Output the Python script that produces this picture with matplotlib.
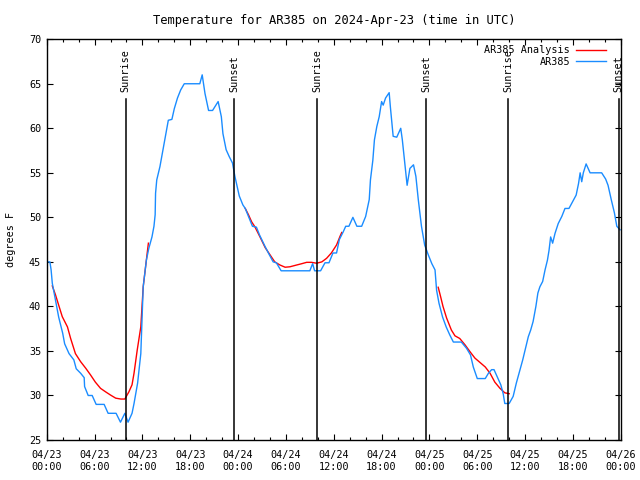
import matplotlib.pyplot as plt

# hours since 2024-04-23 00:00 UTC
obs_hours = [0.0, 0.4, 0.55, 0.7, 1.1, 1.5, 2.0, 2.25, 2.8, 3.4, 3.7, 4.25, 4.7, 4.75, 5.2, 5.7,
             6.2, 7.2, 7.7, 8.7, 9.25, 9.8, 10.2, 10.7, 10.95, 11.4, 11.8, 12.1, 12.5, 12.8,
             13.2, 13.45, 13.6, 13.65, 13.8, 14.2, 14.5, 14.8, 15.25, 15.7, 16.0, 16.4, 16.8,
             17.25, 19.2, 19.5, 19.85, 20.3, 20.8, 21.5, 21.9, 22.1, 22.5, 22.9, 23.3, 23.6,
             24.15, 24.6, 24.9, 25.3, 25.8, 26.3, 26.7, 27.4, 27.8, 28.4, 28.8, 29.4, 33.0,
             33.35, 33.6, 34.35, 34.9, 35.4, 35.9, 36.35, 36.7, 37.2, 37.5, 37.9, 38.4, 38.9,
             39.5, 40.0, 40.45, 40.6, 40.9, 41.1, 41.4, 41.7, 42.0, 42.2, 42.5, 42.95, 43.1,
             43.45, 43.9, 44.4, 44.6, 44.9, 45.2, 45.55, 46.0, 46.3, 46.6, 47.0, 47.4, 47.85,
             48.3, 48.7, 48.9, 49.2, 49.65, 50.1, 50.55, 51.0, 52.0, 52.65, 53.15, 53.5, 54.0,
             55.0, 55.4, 55.8, 56.1, 56.6, 56.95, 57.25, 57.45, 58.0, 58.5, 58.9, 59.35, 59.7,
             60.1, 60.4, 60.7, 61.0, 61.35, 61.6, 61.85, 62.2, 62.5, 62.8, 63.0, 63.2, 63.45,
             63.75, 64.15, 64.6, 65.0, 65.5, 65.95, 66.4, 66.7, 66.9, 67.1, 67.3, 67.65, 68.15,
             69.6, 70.1, 70.4, 70.8, 71.2, 71.5, 71.9]
obs_temps = [45.0, 45.0, 44.1, 42.6, 40.7, 38.8, 37.0, 35.8, 34.7, 34.0, 33.0, 32.5, 32.0, 31.0,
             30.0, 30.0, 29.0, 29.0, 28.0, 28.0, 27.0, 28.0, 27.0, 28.0, 29.1, 31.4, 34.7, 42.2,
             45.2, 46.5, 47.8, 49.0, 50.3, 52.7, 54.2, 55.7, 57.2, 58.7, 60.9, 61.0, 62.2, 63.4,
             64.3, 65.0, 65.0, 66.0, 63.9, 62.0, 62.0, 63.0, 61.3, 59.4, 57.6, 56.8, 56.1, 54.6,
             52.4, 51.4, 51.0, 50.1, 49.0, 48.9, 48.0, 46.7, 46.0, 45.0, 44.9, 44.0, 44.0, 44.8,
             44.0, 44.0, 44.9, 44.9, 46.0, 46.0, 47.5, 48.4, 49.0, 49.0, 50.0, 49.0, 49.0, 50.1,
             52.0, 54.2, 56.4, 58.7, 60.2, 61.3, 63.0, 62.6, 63.4, 64.0, 62.4, 59.1, 59.0, 60.0,
             58.7, 56.1, 53.6, 55.5, 55.9, 54.6, 52.0, 49.0, 46.9, 45.8, 44.8, 44.1, 41.8, 40.35,
             38.8, 37.7, 36.8, 36.0, 36.0, 35.3, 34.55, 33.2, 31.9, 31.9, 32.5, 32.9, 32.9, 31.9,
             31.2, 30.2, 29.1, 29.1, 29.9, 31.4, 32.85, 34.0, 35.5, 36.6, 37.35, 38.3, 40.0, 41.5,
             42.2, 42.8, 44.1, 45.2, 46.3, 47.8, 47.1, 48.2, 49.3, 50.1, 51.0, 51.0, 51.75, 52.5,
             53.8, 55.0, 54.0, 55.0, 56.0, 55.0, 55.0, 54.3, 53.6, 52.0, 50.5, 49.0, 48.6]

# analysis (night segments, None = gap)
ana_hours = [0.7, 1.1, 1.55, 1.95, 2.6, 3.0, 3.6, 4.25, 4.9, 5.5, 6.1, 6.75, 7.4, 8.0, 8.65,
             9.3, 9.8, 10.3, 10.7, 10.95, 11.35, 11.8, 12.1, 12.75, None,
             24.9, 25.3, 25.7, 26.1, 26.75, 27.4, 28.0, 28.6, 29.25, 29.9, 30.5, 31.35, 32.0,
             32.6, 33.2, 33.85, 34.5, 35.1, 35.7, 36.35, 36.8, 37.0, None,
             49.1, 49.4, 49.7, 50.15, 50.75, 51.2, 51.8, 52.45, 53.1, 53.7, 54.35, 55.0, 55.6,
             56.2, 56.85, 57.45, 58.0]
ana_temps = [42.3, 41.3, 40.0, 38.85, 37.7, 36.4, 34.7, 33.8, 33.05, 32.3, 31.5, 30.8, 30.4,
             30.05, 29.7, 29.6, 29.6, 30.4, 31.2, 32.5, 35.1, 37.7, 42.2, 47.1, None,
             51.0, 50.3, 49.5, 48.95, 47.8, 46.6, 45.8, 45.0, 44.65, 44.4, 44.45, 44.65, 44.8,
             44.95, 44.95, 44.85, 45.0, 45.4, 46.0, 46.9, 47.9, 48.3, None,
             42.15, 41.1, 40.0, 38.7, 37.35, 36.7, 36.4, 35.7, 34.9, 34.2, 33.7, 33.2, 32.5,
             31.5, 30.8, 30.3, 30.2]

sunrise_hours = [9.9, 33.93, 57.87]
sunset_hours = [23.52, 47.6, 71.75]

tick_hours = list(range(0, 73, 6))
tick_labels = ["04/23\n00:00", "04/23\n06:00", "04/23\n12:00", "04/23\n18:00",
               "04/24\n00:00", "04/24\n06:00", "04/24\n12:00", "04/24\n18:00",
               "04/25\n00:00", "04/25\n06:00", "04/25\n12:00", "04/25\n18:00",
               "04/26\n00:00"]

plt.rcParams['font.family'] = 'DejaVu Sans Mono'
plt.rcParams['font.size'] = 7.3

fig = plt.figure(figsize=(6.4, 4.8), dpi=100)
ax = fig.add_axes([0.073, 0.0833, 0.897, 0.835])

ana_x = [float('nan') if v is None else v for v in ana_hours]
ana_y = [float('nan') if v is None else v for v in ana_temps]
ax.plot(ana_x, ana_y, color='#ff0000', lw=1.0, label='AR385 Analysis')
ax.plot(obs_hours, obs_temps, color='#1a8cff', lw=1.0, label='AR385')

for h in sunrise_hours:
    ax.plot([h, h], [25, 63.3], color='black', lw=1.1)
    ax.text(h, 64.1, 'Sunrise', rotation=90, ha='center', va='bottom')
for h in sunset_hours:
    ax.plot([h, h], [25, 63.3], color='black', lw=1.1)
    ax.text(h, 64.1, 'Sunset', rotation=90, ha='center', va='bottom')

ax.set_xlim(0, 72)
ax.set_ylim(25, 70)
ax.set_xticks(tick_hours)
ax.set_xticklabels(tick_labels)
ax.set_xticks(range(0, 73, 2), minor=True)
ax.set_yticks(range(25, 71, 5))
ax.tick_params(direction='in', top=True, right=True, length=4, width=0.8, pad=7.5)
ax.tick_params(which='minor', direction='in', top=True, length=2.5, width=0.8)
ax.tick_params(axis='y', pad=4)
for s in ax.spines.values():
    s.set_linewidth(1.0)

ax.set_ylabel('degrees F', labelpad=9)
ax.set_title('Temperature for AR385 on 2024-Apr-23 (time in UTC)', pad=11)
ax.legend(loc='upper right', bbox_to_anchor=(0.984, 1.0), frameon=False, markerfirst=False,
          handlelength=2.9, borderaxespad=0.2, labelspacing=0.15, handletextpad=0.6)

fig.savefig('out.png', dpi=100)
